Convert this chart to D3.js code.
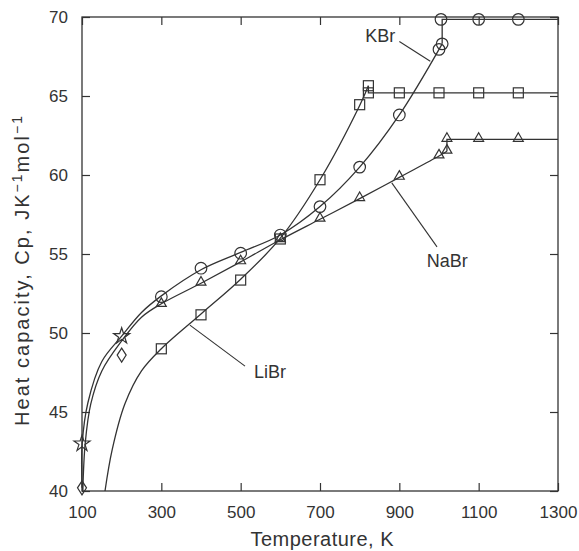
<!DOCTYPE html>
<html>
<head>
<meta charset="utf-8">
<script src="https://cdn.jsdelivr.net/npm/d3@7/dist/d3.min.js"></script>
<style>
  body { margin: 0; background: #fff; }
  text { font-family: "Liberation Sans", Arial, sans-serif; fill: #333; }
</style>
</head>
<body>
<div id="main"></div>
<script>
// tick values
var xTicks = [100, 300, 500, 700, 900, 1100, 1300];
var yTicks = [40, 45, 50, 55, 60, 65, 70];

// measured points [T, Cp]
var libr_points = [[300, 49.0], [400, 51.15], [500, 53.35], [600, 55.95], [700, 59.7], [800, 64.45], [822, 65.65],
  [822, 65.2], [900, 65.2], [1000, 65.2], [1100, 65.2], [1200, 65.2]];
var kbr_points = [[300, 52.3], [400, 54.1], [500, 55.05], [600, 56.2], [700, 58.0], [800, 60.5], [900, 63.8],
  [1000, 67.95], [1008, 68.3], [1005, 69.85], [1100, 69.85], [1200, 69.85]];
var nabr_points = [[300, 51.8], [400, 53.15], [500, 54.5], [600, 55.9], [700, 57.2], [800, 58.5], [900, 59.85],
  [1000, 61.2], [1020, 61.5], [1020, 62.25], [1100, 62.25], [1200, 62.25]];
var star_points = [[100, 43.0], [200, 49.8]];
var diamond_points = [[100, 40.2], [200, 48.6]];

// fitted curves
var libr_curve = [[158, 40], [176, 42.6], [208, 45.5], [250, 47.6], [300, 49.0], [400, 51.2], [500, 53.4],
  [600, 56.0], [700, 59.7], [800, 64.4], [822, 65.65]];
var kbr_curve = [[100, 40.2], [100.5, 43.0], [115, 45.6], [150, 48.2], [200, 49.8], [250, 51.3], [300, 52.35],
  [400, 54.0], [500, 55.1], [600, 56.2], [700, 58.0], [800, 60.5], [900, 63.8], [1008, 68.3]];
var nabr_curve = [[102, 40], [108, 43.0], [122, 45.5], [150, 47.6], [200, 49.5], [250, 51.0], [300, 51.85],
  [400, 53.15], [500, 54.5], [600, 55.9], [700, 57.2], [800, 58.5], [900, 59.85], [1000, 61.2], [1020, 61.5]];

// melt steps
var libr_step = [[822, 65.65], [822, 65.2], [1300, 65.2]];
var kbr_step = [[1008, 68.3], [1008, 69.85], [1300, 69.85]];
var nabr_step = [[1020, 61.5], [1020, 62.25], [1300, 62.25]];

// labels: name, text anchor [T, Cp], leader from, leader to
var label_names = ['KBr', 'NaBr', 'LiBr'];
var label_at = [[852, 68.4], [1021, 54.2], [574, 47.15]];
var leader_from = [[900, 68.45], [881, 59.5], [372, 50.5]];
var leader_to = [[978, 67.2], [995, 55.45], [511, 47.9]];

function draw_chart() {

  var width = 579;
  var height = 551;
  var margin = {left: 82, top: 17, right: 21, bottom: 60};

  var svg = d3.select('#main').append('svg').attr('width', width).attr('height', height);

  var x = d3.scaleLinear().domain([100, 1300]).range([margin.left, width - margin.right]);
  var y = d3.scaleLinear().domain([40, 70]).range([height - margin.bottom, margin.top]);

  var ink = '#333';

  // frame
  svg.append('rect')
    .attr('x', x(100)).attr('y', y(70))
    .attr('width', x(1300) - x(100)).attr('height', y(40) - y(70))
    .attr('fill', 'none').attr('stroke', ink).attr('stroke-width', 1.3);

  var tickLen = 8;

  var bottom = svg.append('g').attr('transform', 'translate(0,' + y(40) + ')')
    .call(d3.axisBottom(x).tickValues(xTicks).tickSizeInner(-tickLen).tickSizeOuter(0)
      .tickPadding(tickLen + 7).tickFormat(d3.format('d')));
  var top = svg.append('g').attr('transform', 'translate(0,' + y(70) + ')')
    .call(d3.axisTop(x).tickValues(xTicks).tickSizeInner(-tickLen).tickSizeOuter(0).tickFormat(''));
  var left = svg.append('g').attr('transform', 'translate(' + x(100) + ',0)')
    .call(d3.axisLeft(y).tickValues(yTicks).tickSizeInner(-tickLen).tickSizeOuter(0).tickPadding(tickLen + 6));
  var right = svg.append('g').attr('transform', 'translate(' + x(1300) + ',0)')
    .call(d3.axisRight(y).tickValues(yTicks).tickSizeInner(-tickLen).tickSizeOuter(0).tickFormat(''));

  [bottom, top, left, right].forEach(function (g) {
    g.select('.domain').remove();
    g.selectAll('line').attr('stroke', ink).attr('stroke-width', 1.2);
    g.selectAll('text').attr('font-size', 17).attr('fill', ink)
      .style('font-family', '"Liberation Sans", Arial, sans-serif');
  });

  // axis titles
  svg.append('text')
    .attr('x', (x(100) + x(1300)) / 2 + 2)
    .attr('y', 546)
    .attr('text-anchor', 'middle')
    .attr('font-size', 20)
    .attr('textLength', 143)
    .attr('lengthAdjust', 'spacing')
    .text('Temperature, K');

  var yt = svg.append('text')
    .attr('transform', 'translate(29,' + 271 + ') rotate(-90)')
    .attr('text-anchor', 'middle')
    .attr('font-size', 20)
    .attr('textLength', 310)
    .attr('lengthAdjust', 'spacing');
  yt.append('tspan').text('Heat capacity, Cp, JK');
  yt.append('tspan').attr('dy', -7).attr('font-size', 14).text('\u22121');
  yt.append('tspan').attr('dy', 7).text('mol');
  yt.append('tspan').attr('dy', -7).attr('font-size', 14).text('\u22121');

  // lines
  var smooth = d3.line()
    .x(function (d) { return x(d[0]); })
    .y(function (d) { return y(d[1]); })
    .curve(d3.curveCatmullRom.alpha(0.5));
  var straight = d3.line()
    .x(function (d) { return x(d[0]); })
    .y(function (d) { return y(d[1]); });

  [libr_curve, kbr_curve, nabr_curve].forEach(function (c) {
    svg.append('path').attr('d', smooth(c)).attr('fill', 'none')
      .attr('stroke', ink).attr('stroke-width', 1.3);
  });
  [libr_step, kbr_step, nabr_step].forEach(function (c) {
    svg.append('path').attr('d', straight(c)).attr('fill', 'none')
      .attr('stroke', ink).attr('stroke-width', 1.3);
  });

  // markers
  var mk = svg.append('g')
    .attr('fill', 'none').attr('stroke', ink).attr('stroke-width', 1.2);

  mk.selectAll('.sq').data(libr_points).enter().append('rect')
    .attr('x', function (d) { return x(d[0]) - 5; })
    .attr('y', function (d) { return y(d[1]) - 5; })
    .attr('width', 10).attr('height', 10);

  mk.selectAll('.ci').data(kbr_points).enter().append('circle')
    .attr('cx', function (d) { return x(d[0]); })
    .attr('cy', function (d) { return y(d[1]); })
    .attr('r', 5.8);

  var tri = d3.symbol().type(d3.symbolTriangle2).size(70);
  mk.selectAll('.tr').data(nabr_points).enter().append('path')
    .attr('d', tri)
    .attr('transform', function (d) { return 'translate(' + x(d[0]) + ',' + (y(d[1]) - 1) + ')'; });

  var star = d3.symbol().type(d3.symbolStar).size(80);
  mk.selectAll('.st').data(star_points).enter().append('path')
    .attr('d', star)
    .attr('transform', function (d) { return 'translate(' + x(d[0]) + ',' + y(d[1]) + ')'; });

  mk.selectAll('.di').data(diamond_points).enter().append('path')
    .attr('d', 'M0,-7L4.5,0L0,7L-4.5,0Z')
    .attr('transform', function (d) { return 'translate(' + x(d[0]) + ',' + y(d[1]) + ')'; });

  // labels with leaders
  label_names.forEach(function (name, i) {
    svg.append('line')
      .attr('x1', x(leader_from[i][0])).attr('y1', y(leader_from[i][1]))
      .attr('x2', x(leader_to[i][0])).attr('y2', y(leader_to[i][1]))
      .attr('stroke', ink).attr('stroke-width', 1.1);
    svg.append('text')
      .attr('x', x(label_at[i][0])).attr('y', y(label_at[i][1]))
      .attr('text-anchor', 'middle')
      .attr('font-size', 18)
      .text(name);
  });
}

draw_chart();
</script>
</body>
</html>
